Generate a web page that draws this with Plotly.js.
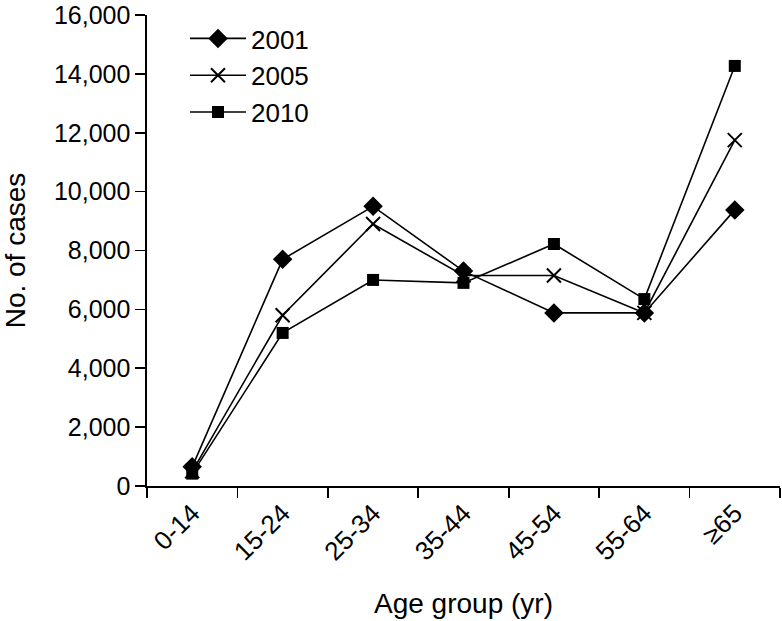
<!DOCTYPE html>
<html>
<head>
<meta charset="utf-8">
<script src="https://cdn.plot.ly/plotly-3.0.1.min.js"></script>
<style>html,body{margin:0;padding:0;background:#fff;}#chart{width:782px;height:621px;}</style>
</head>
<body>
<div id="chart"></div>
<script>
const categories = ["0-14", "15-24", "25-34", "35-44", "45-54", "55-64", "≥65"];
const cases2001 = [650, 7700, 9500, 7300, 5880, 5880, 9380];
const cases2005 = [500, 5800, 8900, 7150, 7150, 5880, 11750];
const cases2010 = [420, 5200, 7000, 6900, 8220, 6350, 14270];
const yTickVals = [0, 2000, 4000, 6000, 8000, 10000, 12000, 14000, 16000];
const yTickText = ["0", "2,000", "4,000", "6,000", "8,000", "10,000", "12,000", "14,000", "16,000"];

const FONT = "Liberation Sans, Arial, sans-serif";
function series(name, y, symbol, size) {
  return {
    type: "scatter", mode: "lines+markers", name: name,
    x: categories, y: y,
    line: {color: "#000", width: 1.6},
    marker: {symbol: symbol, size: size, color: "#000", line: {color: "#000", width: symbol === "x-thin" ? 2 : 0}}
  };
}
const data = [
  series("2001", cases2001, "diamond", 15),
  series("2005", cases2005, "x-thin", 14),
  series("2010", cases2010, "square", 12)
];
const layout = {
  width: 782, height: 621,
  margin: {l: 147, r: 2, t: 15, b: 135},
  paper_bgcolor: "#fff", plot_bgcolor: "#fff",
  font: {family: FONT, color: "#000", size: 26},
  showlegend: true,
  legend: {x: 0.06, y: 1.0, xanchor: "left", yanchor: "top", font: {size: 26, family: FONT}, itemwidth: 56, tracegroupgap: 0, bgcolor: "rgba(0,0,0,0)"},
  xaxis: {
    type: "category", range: [-0.5, 6.5],
    showline: true, linecolor: "#000", linewidth: 1.6,
    ticks: "outside", tickson: "boundaries", ticklen: 10, tickwidth: 1.6, tickcolor: "#000",
    tickangle: -45, showgrid: false, zeroline: false,
    tickfont: {size: 26, family: FONT},
    title: {text: "Age group (yr)", font: {size: 28, family: FONT}, standoff: 28}
  },
  yaxis: {
    range: [0, 16000], tickvals: yTickVals, ticktext: yTickText,
    showline: true, linecolor: "#000", linewidth: 1.6,
    ticks: "outside", ticklen: 10, tickwidth: 1.6, tickcolor: "#000",
    showgrid: false, zeroline: false, ticklabeloverflow: "allow",
    tickfont: {size: 25, family: FONT},
    title: {text: "No. of cases", font: {size: 28, family: FONT}, standoff: 26}
  }
};
Plotly.newPlot("chart", data, layout, {displayModeBar: false, staticPlot: true});
</script>
</body>
</html>
